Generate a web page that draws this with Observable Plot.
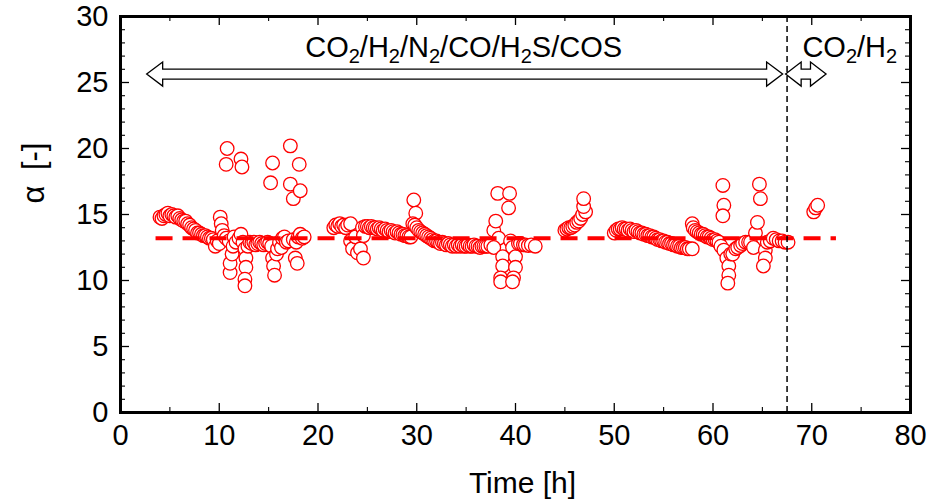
<!DOCTYPE html>
<html>
<head>
<meta charset="utf-8">
<script src="https://cdn.jsdelivr.net/npm/d3@7"></script>
<script src="https://cdn.jsdelivr.net/npm/@observablehq/plot@0.6"></script>
<style>
  html, body { margin: 0; padding: 0; background: #fff; }
</style>
</head>
<body>
<div id="chart"></div>
<script>
// ---- data ----
// segment 1 : ~4–19 h
const time1 = [4.0,4.2,4.4,4.6,4.8,5.0,5.2,5.4,5.6,5.8,
  6.0,6.2,6.4,6.6,6.8,7.0,7.2,7.4,7.6,7.8,
  8.0,8.2,8.4,8.6,8.8,9.0,9.2,9.4,9.6,9.8,
  10.0,10.1,10.2,10.3,10.5,10.7,10.8,10.7,11.0,11.1,
  11.1,11.3,11.4,11.5,11.7,12.0,12.2,12.3,12.2,12.4,
  12.6,12.7,12.7,12.6,12.6,12.9,13.1,13.3,13.5,13.7,
  13.9,14.1,14.3,14.5,14.7,14.9,15.1,15.3,15.4,15.2,
  15.4,15.5,15.6,15.8,15.9,16.1,16.3,16.4,16.6,16.8,
  17.0,17.2,17.2,17.5,18.1,18.2,17.7,17.9,17.5,17.8,
  18.0,18.2,18.4,18.6];
const alpha1 = [14.8,14.7,14.9,15.0,15.1,14.9,15.0,14.9,14.8,14.9,
  14.7,14.6,14.5,14.5,14.3,14.2,14.0,13.9,13.8,13.6,
  13.6,13.5,13.4,13.4,13.3,13.2,13.2,13.1,12.6,13.0,
  12.8,14.8,14.3,13.8,13.4,13.2,20.0,18.8,13.0,10.6,
  11.3,12.0,12.6,13.3,12.9,13.2,19.2,18.6,13.5,12.9,
  12.4,11.7,11.0,10.1,9.6,12.6,12.9,12.8,12.9,12.7,
  12.8,12.9,12.8,12.7,12.8,12.9,12.8,12.6,18.9,17.4,
  11.7,11.1,10.4,12.0,12.4,12.9,12.5,13.2,13.3,12.9,
  13.0,20.2,17.3,16.2,18.8,16.8,11.7,11.3,13.1,12.9,
  13.3,13.5,13.2,13.3];
// segment 2 : ~21.6–42 h
const time2 = [21.6,21.8,22.0,22.2,22.4,22.6,22.8,23.0,23.3,23.3,
  23.5,23.8,24.0,24.3,24.5,24.6,24.6,24.8,25.0,25.2,
  25.4,25.6,25.8,26.0,26.2,26.4,26.6,26.8,27.0,27.2,
  27.4,27.6,27.8,28.0,28.2,28.4,28.6,28.8,29.0,29.2,
  29.4,29.7,29.9,29.6,29.8,30.0,30.2,30.4,30.6,30.8,
  31.0,31.2,31.4,31.6,31.8,32.0,32.2,32.4,32.6,32.8,
  33.0,33.2,33.4,33.6,33.8,34.0,34.2,34.4,34.6,34.8,
  35.0,35.2,35.4,35.6,35.8,36.0,36.2,36.4,36.6,36.8,
  37.0,37.2,37.5,37.8,38.0,38.2,39.4,39.3,38.3,37.8,
  38.7,38.7,38.5,38.5,39.5,39.7,40.0,40.0,39.8,39.7,
  40.3,40.5,40.8,41.0,41.3,41.6,42.0];
const alpha2 = [14.0,14.2,14.1,14.3,14.1,14.2,14.0,14.2,14.3,13.0,
  12.4,13.3,12.1,12.4,14.0,13.4,11.7,14.1,14.1,14.0,
  14.1,14.0,14.0,13.9,14.0,13.9,13.8,13.9,13.8,13.7,
  13.8,13.7,13.6,13.7,13.6,13.5,13.5,13.4,13.4,13.3,
  13.3,16.1,15.1,14.3,14.2,14.0,13.8,13.7,13.6,13.5,
  13.4,13.3,13.2,13.1,13.0,13.0,12.9,12.8,12.9,12.8,
  12.7,12.8,12.7,12.6,12.7,12.6,12.7,12.6,12.7,12.6,
  12.6,12.7,12.6,12.6,12.7,12.6,12.6,12.5,12.6,12.6,
  12.6,12.6,12.7,13.8,14.5,16.6,16.6,15.5,13.2,12.5,
  11.8,11.1,10.2,9.9,13.0,12.5,11.8,11.0,10.2,9.9,
  12.8,12.8,12.7,12.7,12.65,12.7,12.6];
// segment 3 : ~45–47 h
const time3 = [45.0,45.2,45.4,45.6,45.8,46.0,46.2,46.4,46.6,46.8,47.1,46.9,46.9];
const alpha3 = [13.8,13.9,14.0,14.0,14.1,14.2,14.4,14.5,14.7,15.0,15.2,15.6,16.2];
// segment 4 : ~50–67.6 h
const time4 = [50.0,50.2,50.4,50.6,50.8,51.0,51.2,51.4,51.6,51.8,
  52.0,52.2,52.4,52.6,52.8,53.0,53.2,53.4,53.6,53.8,
  54.0,54.2,54.4,54.6,54.8,55.0,55.2,55.4,55.6,55.8,
  56.0,56.2,56.4,56.6,56.8,57.0,57.2,57.4,57.6,57.9,
  57.9,58.0,58.2,58.4,58.6,58.8,59.0,59.2,59.4,59.6,
  59.8,60.0,60.2,60.4,60.6,60.8,61.0,61.1,61.0,61.1,
  61.4,61.6,61.6,61.5,61.8,62.0,62.3,62.5,62.8,63.0,
  63.3,63.6,63.8,64.1,64.3,64.5,64.8,64.7,65.3,65.3,
  65.1,65.5,65.8,66.1,66.4,66.7,67.0,67.3,67.6];
const alpha4 = [13.6,13.8,13.9,13.9,14.0,13.9,13.9,13.8,13.9,13.8,
  13.7,13.8,13.7,13.6,13.6,13.5,13.5,13.4,13.4,13.3,
  13.3,13.2,13.1,13.1,13.0,13.0,12.9,12.9,12.8,12.8,
  12.7,12.7,12.6,12.6,12.5,12.5,12.5,12.4,12.4,12.4,
  14.3,14.0,13.8,13.7,13.6,13.5,13.5,13.4,13.3,13.3,
  13.2,13.1,13.1,13.0,12.9,12.6,17.2,15.7,14.9,12.3,
  11.7,11.1,10.4,9.8,12.0,12.0,12.4,12.5,12.65,12.8,
  12.9,12.9,12.9,12.5,13.6,14.4,16.2,17.3,12.3,11.7,
  11.1,12.9,13.0,13.2,13.1,13.0,13.0,12.9,12.9];
// segment 5 : CO2/H2 only
const time5 = [70.2,70.4,70.6];
const alpha5 = [15.2,15.5,15.7];

// average line, gas switch, axis ticks, annotations
const meanAlpha = 13.2;
const meanFrom = 3.6, meanTo = 72.5;
const switchTime = 67.5;
const xTicks = [0,10,20,30,40,50,60,70,80];
const xMinor = [5,15,25,35,45,55,65,75];
const yTicks = [0,5,10,15,20,25,30];
const yMinor = [1,2,3,4,6,7,8,9,11,12,13,14,16,17,18,19,21,22,23,24,26,27,28,29];
const xLabel = "Time [h]";
const yLabel = "α\u2002[-]";
const arrowFrom = [2.7, 67.4];
const arrowTo = [67.1, 71.5];
const arrowAt = 25.6;
const gasText = ["CO_2/H_2/N_2/CO/H_2S/COS", "CO_2/H_2"];
const gasX = [34.8, 73.9];
const gasY = 26.9;

// ---- build table ----
const segs = [[time1,alpha1],[time2,alpha2],[time3,alpha3],[time4,alpha4],[time5,alpha5]];
const points = [];
for (const [t, a] of segs) for (let i = 0; i < Math.min(t.length, a.length); i++) points.push({time: t[i], alpha: a[i]});

const FONT = "'Liberation Sans', Arial, Helvetica, sans-serif";
const major = 9, minor = 5;

const chart = Plot.plot({
  width: 929, height: 502,
  marginLeft: 120, marginRight: 19, marginTop: 16, marginBottom: 90,
  x: {domain: [0, 80], label: null},
  y: {domain: [0, 30], label: null},
  style: {fontFamily: FONT, background: "white", color: "black"},
  marks: [
    Plot.dot(points, {x: "time", y: "alpha", r: 6.8, stroke: "#ff0000", fill: "white", strokeWidth: 1.3}),
    Plot.ruleY([meanAlpha], {x1: meanFrom, x2: meanTo, stroke: "#ff0000", strokeWidth: 4, strokeDasharray: "17,10"}),
    Plot.ruleX([switchTime], {stroke: "black", strokeWidth: 1.5, strokeDasharray: "6,4"}),
    // inward ticks: bottom, top, left, right
    Plot.ruleX(xTicks, {x: d => d, y1: 0, y2: 0, insetTop: -major, stroke: "black", strokeWidth: 1.3}),
    Plot.ruleX(xMinor, {x: d => d, y1: 0, y2: 0, insetTop: -minor, stroke: "black", strokeWidth: 1.1}),
    Plot.ruleX(xTicks, {x: d => d, y1: 30, y2: 30, insetBottom: -major, stroke: "black", strokeWidth: 1.3}),
    Plot.ruleX(xMinor, {x: d => d, y1: 30, y2: 30, insetBottom: -minor, stroke: "black", strokeWidth: 1.1}),
    Plot.ruleY(yTicks, {y: d => d, x1: 0, x2: 0, insetRight: -major, stroke: "black", strokeWidth: 1.3}),
    Plot.ruleY(yMinor, {y: d => d, x1: 0, x2: 0, insetRight: -minor, stroke: "black", strokeWidth: 1.1}),
    Plot.ruleY(yTicks, {y: d => d, x1: 80, x2: 80, insetLeft: -major, stroke: "black", strokeWidth: 1.3}),
    Plot.ruleY(yMinor, {y: d => d, x1: 80, x2: 80, insetLeft: -minor, stroke: "black", strokeWidth: 1.1}),
    Plot.frame({stroke: "black", strokeWidth: 3}),
    Plot.axisX(xTicks, {tickSize: 0, tickPadding: 12, fontSize: 29, label: null}),
    Plot.axisY(yTicks, {tickSize: 0, tickPadding: 12, fontSize: 29, label: null}),
    Plot.text([xLabel], {text: d => d, frameAnchor: "bottom", dy: 71, dx: 7, lineAnchor: "middle", fontSize: 30}),
    Plot.text([yLabel], {text: d => d, frameAnchor: "left", dx: -86, dy: -11, rotate: -90, lineAnchor: "middle", fontSize: 31})
  ]
});

// ---- annotations (hollow double arrows + gas labels with subscripts) ----
const sx = chart.scale("x"), sy = chart.scale("y");
const X = v => sx.apply(v), Y = v => sy.apply(v);
const NS = "http://www.w3.org/2000/svg";
const g = document.createElementNS(NS, "g");
g.setAttribute("font-family", FONT);
for (let i = 0; i < arrowFrom.length; i++) {
  const x1 = X(arrowFrom[i]), x2 = X(arrowTo[i]), y = Y(arrowAt);
  const h = Math.min(16, (x2 - x1) / 2.6), H = 12, s = 5;
  const d = `M${x1},${y} L${x1+h},${y-H} L${x1+h},${y-s} L${x2-h},${y-s} L${x2-h},${y-H} L${x2},${y} L${x2-h},${y+H} L${x2-h},${y+s} L${x1+h},${y+s} L${x1+h},${y+H} Z`;
  const p = document.createElementNS(NS, "path");
  p.setAttribute("d", d);
  p.setAttribute("fill", "white");
  p.setAttribute("stroke", "black");
  p.setAttribute("stroke-width", "1.3");
  p.setAttribute("stroke-linejoin", "miter");
  g.appendChild(p);
}
for (let i = 0; i < gasText.length; i++) {
  const t = document.createElementNS(NS, "text");
  t.setAttribute("x", X(gasX[i]));
  t.setAttribute("y", Y(gasY));
  t.setAttribute("text-anchor", "middle");
  t.setAttribute("font-size", "29");
  t.setAttribute("fill", "black");
  const parts = gasText[i].split(/(_\d)/);
  let shifted = false;
  for (const part of parts) {
    if (!part) continue;
    const ts = document.createElementNS(NS, "tspan");
    if (part.startsWith("_")) {
      ts.textContent = part.slice(1);
      ts.setAttribute("font-size", "20");
      ts.setAttribute("dy", "6");
      shifted = true;
    } else {
      ts.textContent = part;
      if (shifted) { ts.setAttribute("dy", "-6"); shifted = false; }
    }
    t.appendChild(ts);
  }
  g.appendChild(t);
}
chart.appendChild(g);
document.getElementById("chart").appendChild(chart);
</script>
</body>
</html>
